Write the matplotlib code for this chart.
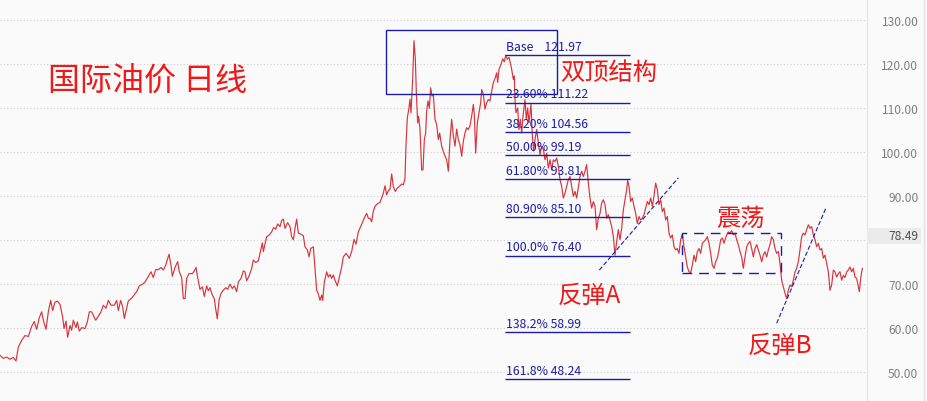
import numpy as np
import matplotlib
matplotlib.use("Agg")
import matplotlib.pyplot as plt
from matplotlib.patches import Rectangle

plt.rcParams["font.family"] = ["Noto Sans CJK SC", "DejaVu Sans"]

# daily closes in six chunks; day offsets are relative to chunk start
CHUNK_START = [0, 435, 870, 1305, 1740, 2175]
day_1 = [0, 10, 20, 30, 40, 48, 55, 65, 75, 85, 95, 103, 110, 118, 125, 130, 138, 145, 152, 158,
         165, 172, 180, 188, 192, 198, 203, 210, 215, 220, 228, 232, 238, 245, 255, 262, 268, 275, 280, 287,
         295, 303, 310, 318, 325, 333, 343, 350, 355, 362, 368, 373, 380, 385, 395, 402, 410, 418, 428]
close_1 = [53.7, 53, 53.3, 52.8, 53.2, 52.4, 55.6, 57.1, 58.2, 58, 60.3, 61.4, 59.6, 62.3, 63.6, 61.7, 59.6, 63.6, 66.2, 63.9,
           65.8, 66, 65.3, 62.4, 59.8, 61.5, 57.8, 60.5, 59.4, 61.7, 60, 61.3, 59.2, 60, 59.8, 61.3, 63.6, 63.6, 62.8, 61.7,
           62.6, 63.6, 65.1, 64.4, 66.2, 65.1, 65.1, 66.2, 63.9, 66.2, 64.7, 62.1, 64.4, 66.1, 66.7, 67.4, 68.2, 69.5, 69.9]
day_2 = [0, 8, 18, 25, 32, 40, 48, 55, 62, 72, 78, 82, 90, 98, 103, 110, 115, 120, 125, 132,
         142, 148, 153, 158, 165, 172, 178, 185, 190, 195, 202, 208, 212, 217, 222, 228, 235, 242, 248, 255,
         262, 268, 275, 280, 288, 295, 300, 305, 312, 320, 325, 332, 340, 345, 352, 355, 360, 365, 373, 380,
         386, 392, 398, 405, 410, 415, 420, 428]
close_2 = [70.4, 71.4, 72.7, 71.4, 73.2, 73.2, 73.7, 73.1, 74.2, 76.7, 74.2, 71.7, 73.7, 75, 72.7, 71.4, 66.6, 66.6, 71.2, 72.3,
           72.3, 72.9, 73.7, 71.4, 68.7, 69.3, 67.1, 69.5, 68.4, 69.1, 67.4, 66.6, 64.3, 62, 66.2, 67.8, 68.5, 69.1, 68.7, 69.9,
           68.9, 69.5, 68.2, 70.4, 71.2, 72.9, 72.7, 70.7, 71.7, 73.5, 75.4, 74.8, 75.2, 76.9, 79.3, 77.3, 79, 80.7, 81.1, 81.8,
           82.8, 82.4, 83.6, 83, 84.4, 84.7, 82.6, 83.9]
day_3 = [0, 5, 10, 15, 20, 25, 32, 40, 45, 52, 57, 62, 70, 75, 80, 85, 90, 95, 98, 103,
         110, 115, 120, 125, 130, 135, 142, 148, 155, 160, 168, 172, 178, 185, 192, 198, 205, 212, 218, 225,
         230, 235, 240, 245, 250, 255, 262, 270, 275, 280, 285, 290, 295, 300, 305, 310, 316, 322, 328, 335,
         340, 345, 348, 352, 357, 360, 363, 368, 372, 376, 379, 383, 386, 390, 395, 399, 403, 407, 410, 414,
         418, 422, 426, 430]
close_3 = [83, 80.7, 80, 82.6, 84.7, 81.5, 81.3, 80.9, 78.4, 77.7, 76.1, 78, 78.4, 73.5, 68.5, 67.7, 66.2, 67.4, 66.2, 70.4,
           72.7, 71.5, 72.1, 71.2, 72, 70.8, 69.5, 71.5, 73.8, 76.1, 76.9, 76.5, 75.8, 77.3, 80.1, 79, 81.8, 83, 84.1, 85.3,
           86, 84.9, 84.9, 84.1, 86.5, 87.6, 88.2, 88.5, 89.5, 90.6, 92.3, 90.2, 91.2, 91.5, 95, 92.1, 91, 91.8, 92.1, 92.7,
           92.5, 94, 101.6, 107.8, 110, 112, 108.9, 116.5, 125.3, 121.1, 113.5, 106.6, 108.1, 105.1, 95.9, 95.9, 102.8, 104.3, 109.3, 111.6,
           109.9, 114.6, 112.7, 113.1]
day_4 = [0, 5, 10, 14, 20, 28, 35, 40, 45, 50, 55, 60, 65, 70, 75, 80, 85, 90, 95, 100,
         105, 110, 115, 118, 122, 127, 132, 137, 140, 145, 150, 155, 160, 165, 170, 175, 180, 185, 188, 192,
         198, 203, 208, 212, 217, 222, 226, 230, 235, 238, 240, 243, 248, 252, 256, 260, 264, 270, 274, 278,
         282, 288, 292, 296, 300, 305, 310, 315, 320, 325, 330, 335, 340, 345, 350, 355, 360, 365, 370, 375,
         380, 385, 390, 395, 400, 405, 410, 415, 420, 425]
close_4 = [107.4, 106.2, 102.8, 104.3, 101.3, 99.4, 98.2, 95.6, 102.8, 107.4, 103.6, 101.3, 105.2, 102.8, 101.6, 99, 102.4, 104.3, 105.5, 105.1,
           106, 108.1, 110.8, 108.5, 99.7, 106.6, 108.9, 111.2, 114.2, 113.1, 109.7, 111.2, 111.9, 111.6, 113.8, 115.8, 116.7, 118, 115.8, 118.8,
           119.9, 121.2, 120.5, 122.0, 121.1, 121.5, 120.3, 118.8, 116.5, 117.3, 111.9, 108.9, 110, 105.1, 107.4, 104.3, 108.1, 111.9, 107.4, 110,
           106.6, 110.8, 103.6, 100.2, 102.8, 105.1, 102.1, 99.4, 101.3, 100.6, 98.2, 99.7, 96.3, 98.2, 95.9, 98.2, 97.8, 98.6, 96.7, 93.7,
           92.1, 89.5, 90.6, 92.1, 93.7, 94.4, 92.1, 89.9, 91, 89.5]
day_5 = [0, 5, 10, 15, 20, 25, 30, 35, 40, 45, 50, 55, 60, 65, 70, 75, 80, 85, 90, 95,
         100, 105, 110, 115, 120, 125, 130, 135, 140, 143, 147, 152, 157, 162, 167, 172, 177, 182, 187, 192,
         197, 202, 207, 212, 217, 222, 227, 232, 237, 242, 247, 252, 257, 262, 267, 272, 277, 282, 287, 292,
         297, 302, 307, 312, 317, 322, 327, 332, 337, 342, 347, 352, 357, 362, 367, 372, 377, 382, 387, 392,
         397, 402, 407, 412, 417, 422, 427, 432]
close_5 = [94.4, 95.6, 94.4, 95.6, 97.1, 92.9, 89.5, 87.2, 88.7, 87.6, 82.3, 84.9, 86, 88.4, 89.1, 88, 84.9, 85.7, 84.5, 83,
           80.7, 76.5, 79.6, 82.3, 80, 82.6, 86.8, 89.1, 91.4, 93.5, 92.1, 88.7, 89.5, 87.6, 86, 83.7, 85.3, 84.5, 84.9, 85.7,
           87.2, 88.7, 88, 89.5, 87.6, 90, 92.9, 91.4, 88, 89.1, 86.4, 87.2, 84.5, 85.3, 81.5, 80.4, 81.1, 78.4, 77.7, 78,
           76.9, 80, 81.3, 78.4, 76.1, 73.8, 72.7, 72.5, 74.2, 76.5, 75, 77.3, 78, 76.9, 79.2, 79.6, 80, 80.7, 79.2, 76.9,
           74.2, 73.5, 75, 75.8, 77.7, 80, 80.4, 79.2]
day_6 = [0, 5, 10, 15, 20, 25, 30, 35, 40, 45, 50, 55, 60, 65, 70, 75, 80, 85, 90, 95,
         100, 105, 110, 115, 120, 125, 130, 135, 140, 145, 150, 155, 160, 163, 167, 170, 175, 180, 185, 190,
         195, 200, 205, 210, 215, 220, 225, 230, 235, 240, 245, 250, 255, 260, 265, 270, 275, 280, 285, 290,
         295, 300, 305, 310, 315, 320, 325, 330, 335, 340, 345, 350, 355, 360, 365, 370, 375, 380, 385, 390,
         395, 400, 403, 407, 412]
close_6 = [80, 81.1, 81.8, 81.5, 82.1, 81.1, 81.5, 80, 78.9, 77.3, 76.1, 73.5, 76.1, 78.4, 79.2, 79.6, 78, 76.1, 78, 78.9,
           77.7, 76.5, 75, 76.5, 77.3, 76.1, 77.7, 78.9, 80.7, 80, 78, 76.9, 77.3, 75.8, 73.1, 70.8, 69.3, 67.8, 66.6, 68.5,
           69.7, 69.3, 70.8, 72.7, 73.5, 75, 77.7, 80.7, 81.5, 81.1, 82.3, 83.4, 82.6, 83, 81.1, 80, 78.4, 79.2, 77.7, 78,
           75.8, 76.5, 74.6, 72.7, 68.5, 69.7, 73.1, 72.7, 71.5, 72.3, 72.7, 70.8, 71.9, 71.4, 72.7, 73.1, 73.8, 72.7, 73.5, 71.5,
           71.2, 69.3, 68.2, 71.2, 73.5]

# fibonacci retracement levels
FIB_NAMES = ["Base   ", "23.60%", "38.20%", "50.00%", "61.80%", "80.90%", "100.0%", "138.2%", "161.8%"]
FIB_LEVELS = [121.97, 111.22, 104.56, 99.19, 93.81, 85.10, 76.40, 58.99, 48.24]
FIB_SPAN = (1515, 1890)

# drawn boxes (day0, day1, low, high) and trend lines
TOP_BOX = (1158, 1671, 113.2, 127.7)
RANGE_BOX = (2046, 2343, 72.4, 81.5)
TREND_A = ([1798, 2035], [73.1, 94.1])
TREND_B = ([2330, 2477], [61.0, 87.1])

LAST_PRICE = 78.49
Y_TICKS = [50, 60, 70, 90, 100, 110, 120, 130]
GRID_LEVELS = [50, 60, 70, 80, 90, 100, 110, 120, 130]

RED = "#f01818"
BLUE = "#1c1ca8"
BG = "#fafafa"

days = np.concatenate([np.array(d) + s for d, s in
                       zip([day_1, day_2, day_3, day_4, day_5, day_6], CHUNK_START)])
closes = np.concatenate([close_1, close_2, close_3, close_4, close_5, close_6])

fig = plt.figure(figsize=(9.27, 4.02), dpi=100, facecolor=BG)
ax = fig.add_axes([0, 0, 867 / 927, 1])
ax.set_facecolor(BG)
ax.set_xlim(0, 2601)
ax.set_ylim(43.3, 134.8)

for lv in GRID_LEVELS:
    ax.axhline(lv, color="#cfcfcf", lw=0.8, ls=(0, (1, 2)), zorder=0)

ax.plot(days, closes, color="#d9343c", lw=0.85, zorder=3)

# fib lines + labels
for name, lv in zip(FIB_NAMES, FIB_LEVELS):
    ax.hlines(lv, FIB_SPAN[0], FIB_SPAN[1], color=BLUE, lw=1.0, zorder=4)
    ax.text(FIB_SPAN[0] + 3, lv + 0.5, f"{name} {lv:.2f}", color=BLUE, fontsize=8.8,
            ha="left", va="bottom", zorder=5)

x0, x1, lo, hi = TOP_BOX
ax.add_patch(Rectangle((x0, lo), x1 - x0, hi - lo, fill=False, ec=BLUE, lw=1.0, zorder=4))
x0, x1, lo, hi = RANGE_BOX
ax.add_patch(Rectangle((x0, lo), x1 - x0, hi - lo, fill=False, ec=BLUE, lw=1.0,
                       ls=(0, (7, 5)), zorder=4))
for xs, ys in (TREND_A, TREND_B):
    ax.plot(xs, ys, color=BLUE, lw=0.8, ls=(0, (4, 2)), zorder=4)

# annotations
ax.text(144, 116.4, "国际油价 日线", color=RED, fontsize=23, va="center", ha="left")
ax.text(1680, 118.3, "双顶结构", color=RED, fontsize=17.5, va="center", ha="left")
ax.text(1674, 67.5, "反弹A", color=RED, fontsize=17.5, va="center", ha="left")
ax.text(2148, 84.9, "震荡", color=RED, fontsize=17.5, va="center", ha="left")
ax.text(2243, 56.1, "反弹B", color=RED, fontsize=17.5, va="center", ha="left")

# right price axis
ax.yaxis.tick_right()
ax.set_yticks(Y_TICKS)
ax.set_yticklabels([f"{v:.2f}" for v in Y_TICKS])
ax.tick_params(axis="y", length=0, pad=37, labelsize=8.7, labelcolor="#808080")
for lab in ax.get_yticklabels():
    lab.set_ha("right")
ax.set_xticks([])
for side in ("top", "left", "bottom"):
    ax.spines[side].set_visible(False)
ax.spines["right"].set_color("#e2e2e2")

# last price marker
fig.patches.append(Rectangle((867 / 927, 1 - 245 / 402), 54 / 927, 16 / 402,
                             transform=fig.transFigure, fc="#ebebeb", ec="none"))
fig.text(918 / 927, 1 - 237 / 402, f"{LAST_PRICE:.2f}", color="#505050", fontsize=8.7,
         ha="right", va="center")
fig.add_artist(plt.Line2D([924 / 927, 924 / 927], [0, 1], transform=fig.transFigure,
                          color="#e2e2e2", lw=1))

fig.savefig("out.png", dpi=100, facecolor=BG)
